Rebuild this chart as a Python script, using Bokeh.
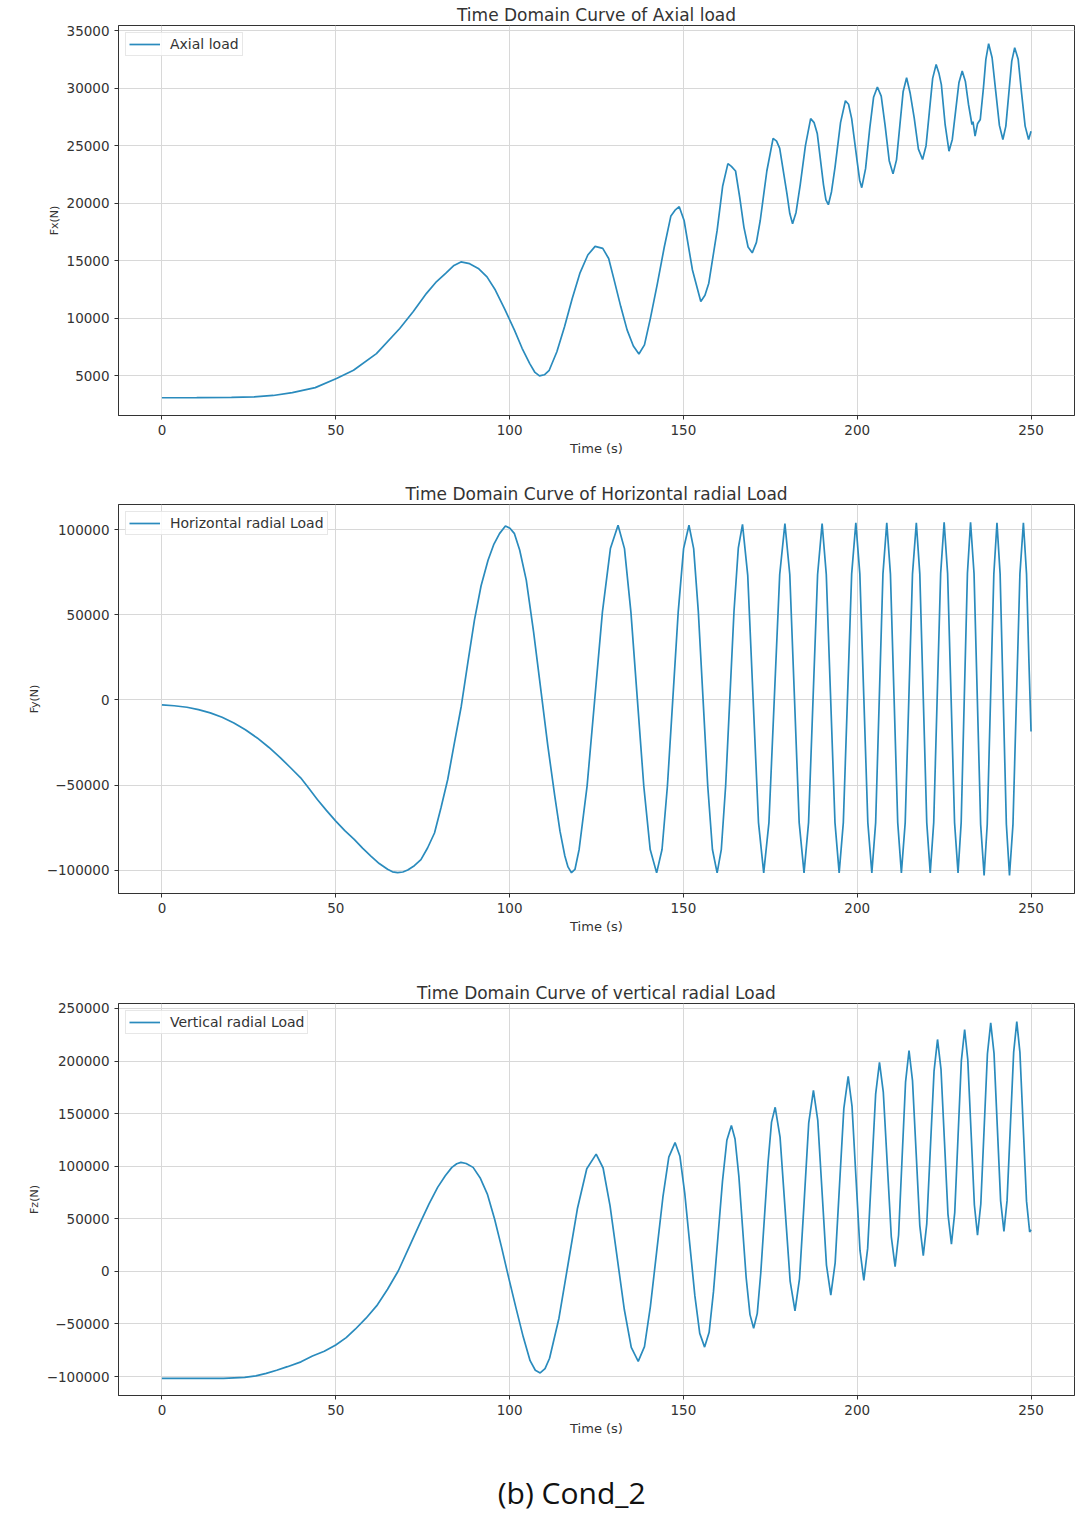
from bokeh.plotting import figure
from bokeh.models import Range1d, FixedTicker
from bokeh.layouts import column
from bokeh.embed import file_html
from bokeh.resources import INLINE
from bokeh.core.properties import value

# ---------------- data ----------------
time_ticks = [0, 50, 100, 150, 200, 250]
fx_ticks = [5000, 10000, 15000, 20000, 25000, 30000, 35000]
fy_ticks = [-100000, -50000, 0, 50000, 100000]
fz_ticks = [-100000, -50000, 0, 50000, 100000, 150000, 200000, 250000]

titles = ["Time Domain Curve of Axial load",
          "Time Domain Curve of Horizontal radial Load",
          "Time Domain Curve of vertical radial Load"]
legend_labels = ["Axial load", "Horizontal radial Load", "Vertical radial Load"]
y_labels = ["Fx(N)", "Fy(N)", "Fz(N)"]
x_label = "Time (s)"
caption = "(b) Cond_2"

axial_t = [0, 10, 20, 26.5, 32, 37.5, 44.1, 50.2, 55.1, 61.7,
           68.4, 72.3, 76.1, 79.0, 81.6, 84.0, 86.0, 88.5, 91.0, 93.5,
           95.9, 98.6, 101.4, 103.6, 105.8, 107.3, 108.6, 110.0, 111.4, 113.6,
           115.8, 118.0, 120.2, 122.5, 124.6, 126.8, 128.5,
           130.1, 132.0, 133.8, 135.6, 137.2, 138.8, 140.5, 142.5, 144.5, 146.4,
           147.6, 148.8, 150.2, 152.6, 155.0, 156.2, 157.3, 159.7, 161.3, 162.8,
           163.8, 165.0, 166.2, 167.4, 168.6, 169.8, 171.0, 172.1, 174.0, 175.8,
           176.8, 177.7, 179.8, 180.6, 181.4, 182.4, 183.6, 185.1, 186.6, 187.6,
           188.5, 190.3, 191.0, 191.7, 192.6, 193.6, 195.2, 196.6, 197.5, 198.4,
           200.0, 200.7, 201.3, 202.4, 203.6, 204.7, 205.8, 206.9, 208.0, 209.2,
           210.3, 211.3, 212.25, 213.2, 214.2, 215.2, 216.4, 217.6, 218.8, 219.8,
           220.75, 221.7, 222.7, 223.5, 224.2, 225.3, 226.4, 227.35, 228.3, 229.25,
           230.2, 231.1, 232.0, 233.0, 233.3, 233.9, 234.6, 235.4, 236.3, 237.0,
           237.8, 238.8, 239.85, 240.9, 241.9, 242.75, 243.6, 244.45, 245.3, 246.3,
           247.3, 248.3, 249.3, 250.0]
axial_v = [3100, 3110, 3140, 3170, 3300, 3550, 3980, 4770, 5490, 6940,
           9120, 10600, 12170, 13200, 13910, 14600, 14900, 14750, 14340, 13600,
           12460, 10800, 8980, 7400, 6070, 5300, 5000, 5100, 5490, 7100,
           9270, 11700, 13900, 15500, 16250, 16080, 15200,
           13300, 11000, 9000, 7600, 6900, 7700, 10000, 13000, 16200, 18900,
           19400, 19700, 18500, 14200, 11470, 12000, 13050, 17640, 21500, 23440,
           23200, 22800, 20500, 17930, 16200, 15690, 16600, 18500, 22800, 25630,
           25400, 24770, 20800, 19100, 18210, 19200, 21600, 25000, 27350, 27000,
           26060, 21600, 20300, 19870, 21000, 23100, 27000, 28900, 28600, 27350,
           23600, 22000, 21350, 23000, 26500, 29200, 30100, 29300, 26800, 23700,
           22550, 23770, 26725, 29680, 30900, 29600, 27400, 24700, 23800, 25000,
           27930, 30850, 32060, 31300, 30300, 26800, 24520, 25540, 28000, 30460,
           31480, 30600, 28600, 26840, 27100, 25830, 26900, 27280, 30000, 32500,
           33860, 32640, 29700, 26760, 25540, 26700, 29525, 32350, 33510, 32500,
           29500, 26700, 25540, 26260]

horiz_t = [0, 3.5, 7.2, 10.5, 13.9, 17.3, 20.7, 24.0, 27.4, 30.8,
           34.1, 37.0, 39.9, 42.3, 44.7, 47.3, 50.0, 52.6, 55.3, 57.7,
           60.1, 62.5, 64.9, 66.3, 67.8, 69.3, 70.7, 72.6, 74.5, 76.4,
           78.4, 80.3, 82.2, 84.1, 86.1, 88.0, 89.9, 91.8, 93.8, 95.5,
           97.1, 98.8, 100.1, 101.4, 102.9, 104.8, 106.9, 109.1, 111.0, 113.0,
           114.5, 115.9, 116.8, 117.8, 118.8, 120.0, 122.3,
           124.5, 126.7, 129.0, 131.2, 133.05, 134.9, 136.75, 138.6, 140.45, 142.3,
           143.85, 145.4, 146.95, 148.5, 150.05, 151.6, 152.95, 154.3, 155.65, 157.0,
           158.35, 159.7, 160.9, 162.15, 163.35, 164.55, 165.8, 167.0, 168.5, 170.05,
           171.6, 173.1, 174.6, 176.15, 177.7, 179.2, 180.6, 181.95, 183.3, 184.7,
           186.0, 187.3, 188.6, 189.9, 191.1, 192.35, 193.6, 194.8, 196.0, 197.2,
           198.4, 199.6, 200.75, 201.9, 203.05, 204.2, 205.3, 206.35, 207.4, 208.5,
           209.55, 210.6, 211.65, 212.7, 213.8, 214.85, 215.9, 217.0, 218.0, 219.0,
           220.0, 221.0, 222.0, 223.0, 224.0, 225.0, 226.0, 227.0, 228.0, 229.0,
           229.9, 230.8, 231.7, 232.6, 233.6, 234.55, 235.5, 236.5, 237.4, 238.35,
           239.3, 240.2, 241.1, 242.0, 242.9, 243.8, 244.8, 245.8, 246.8, 247.8,
           248.7, 249.4, 250.0]
horiz_v = [-2930, -3400, -4300, -5700, -7600, -10200, -13500, -17500, -22300, -27900,
           -34000, -39800, -45700, -52000, -58400, -64800, -71100, -76700, -81800, -87000,
           -91600, -96000, -99400, -100900, -101400, -101000, -99800, -97300, -93750, -86900,
           -78100, -63000, -46700, -25500, -3700, 22000, 47000, 67000, 82000, 91500,
           97600, 102100, 100800, 97600, 88000, 70300, 40000, 4100, -27000, -56400,
           -77000, -91600, -98000, -101400, -99500, -87750, -50400,
           550, 51500, 88850, 102500, 88800, 51500, 500, -50500, -87800, -101500,
           -87800, -50500, 500, 51500, 88800, 102500, 88800, 51500, 500, -50500,
           -87800, -101500, -87800, -50400, 750, 51900, 89300, 103000, 73300, 700,
           -72000, -101500, -72000, 1000, 73600, 103500, 73600, 1000, -72000, -101500,
           -72000, 1000, 73600, 103500, 73600, 1000, -72000, -101500, -72000, 1200,
           74000, 104000, 74000, 1200, -72000, -101500, -72000, 1200, 74000, 104000,
           74000, 1200, -72000, -101500, -72000, 1200, 74000, 104000, 74000, 1200,
           -72000, -101500, -72000, 1400, 74200, 104300, 74200, 1400, -72000, -101500,
           -72000, 1400, 74200, 104300, 74200, 650, -73000, -103000, -73000, 500,
           74000, 104000, 74000, 500, -73000, -103000, -73000, 500, 74000, 104000,
           74000, 22000, -18500]

vert_t = [0, 17.7, 23.8, 27.0, 30.0, 33.0, 36.1, 40.0, 43.3, 46.7,
          50.0, 53.0, 55.6, 58.7, 61.8, 64.9, 68.0, 71.1, 74.1, 76.8,
          79.3, 81.5, 83.4, 84.8, 86.0, 87.5, 89.5, 91.6, 93.6, 95.7,
          97.7, 99.7, 101.8, 103.9, 105.9, 107.4, 108.8, 110.2,
          111.5, 114.2, 116.85, 119.5, 122.2, 124.9, 126.9, 128.9, 130.95, 133.0,
          135.0, 137.0, 138.8, 140.5, 142.3, 144.1, 145.8, 147.6, 149.0, 150.4,
          151.85, 153.3, 154.7, 156.1, 157.4, 158.65, 159.95, 161.25, 162.5, 163.8,
          164.85, 165.95, 167.0, 168.05, 169.15, 170.2, 171.25, 172.25, 173.3, 174.35,
          175.35, 176.4, 177.8, 179.25, 180.7, 182.1, 183.4, 184.75, 186.05, 187.4,
          188.65, 189.9, 191.15, 192.4, 193.65, 194.9, 196.15, 197.4, 198.5, 199.65,
          200.8, 201.9, 203.0, 204.15, 205.3, 206.4, 207.5, 208.65, 209.8, 210.9,
          211.9, 212.9, 213.9, 214.9, 215.9, 216.95, 218.0, 219.0, 220.0, 221.05,
          222.1, 223.1, 224.1, 225.1, 226.1, 227.1, 228.05, 229.0, 229.95, 230.9,
          231.8, 232.75, 233.7, 234.6, 235.55, 236.5, 237.45, 238.4, 239.35, 240.3,
          241.25, 242.2, 243.1, 244.05, 245.0, 245.9, 246.8, 247.75, 248.7, 249.6,
          250.0]
vert_v = [-101700, -101700, -100800, -99300, -97000, -94000, -90600, -86000, -80500, -76000,
          -70000, -63000, -55000, -44500, -32600, -17000, 600, 23000, 45000, 64000,
          79900, 91000, 98900, 102300, 103600, 102600, 98900, 88500, 73500, 49500,
          22800, -5500, -34200, -62000, -84900, -94000, -96500, -92500,
          -82600, -44500, 7500, 59500, 97600, 111500, 98300, 62250, 13000, -36250,
          -72300, -85500, -71600, -33500, 18500, 70500, 108600, 122500, 109450, 73850,
          25250, -23350, -58950, -72000, -57900, -19300, 33400, 86100, 124700, 138800,
          125900, 90600, 42400, -5800, -41100, -54000, -39900, -1500, 51000, 103500,
          141900, 156000, 127650, 59250, -9150, -37500, -6800, 67250, 141300, 172000,
          143500, 74750, 6000, -22500, 8000, 81500, 155000, 185500, 157100, 88500,
          19900, -8500, 21850, 95150, 168450, 198800, 170350, 101650, 32950, 4500,
          34600, 107250, 179900, 210000, 181400, 112500, 43600, 15000, 45100, 117750,
          190400, 220500, 192000, 123250, 54500, 26000, 55900, 128000, 200100, 230000,
          201350, 132250, 63150, 34500, 64100, 135400, 206700, 236300, 207250, 137150,
          67050, 38000, 67250, 137750, 208250, 237500, 208200, 137500, 66800, 37500,
          39600]

# ---------------- styling ----------------
LINE = "#2a8bbd"
TXT = "#333333"
FONT = "DejaVu Sans"


def make_fig(title, ylab, leg, t, v, yr, yticks, top, fh, bottom):
    p = figure(frame_width=956, frame_height=fh,
               min_border_left=118, min_border_right=6,
               min_border_top=top, min_border_bottom=bottom,
               x_range=Range1d(-12.5, 262.5), y_range=Range1d(*yr),
               toolbar_location=None, output_backend="svg",
               background_fill_color="white", border_fill_color="white")
    p.title.text = title
    p.title.align = "center"
    p.title.text_font = FONT
    p.title.text_font_size = "17px"
    p.title.text_font_style = "normal"
    p.title.text_color = "#333333"
    p.title.standoff = 2

    p.line(t, v, line_color=LINE, line_width=1.7, legend_label=leg)

    p.xaxis.ticker = FixedTicker(ticks=time_ticks)
    p.yaxis.ticker = FixedTicker(ticks=yticks)
    p.yaxis.major_label_overrides = {k: str(k).replace("-", "\u2212") for k in yticks}
    p.xaxis.axis_label = x_label
    p.yaxis.axis_label = ylab
    for ax in (p.xaxis, p.yaxis):
        ax.axis_line_color = "#333333"
        ax.major_tick_line_color = "#333333"
        ax.major_tick_out = 4
        ax.major_tick_in = 0
        ax.minor_tick_line_color = None
        ax.major_label_text_font = FONT
        ax.major_label_text_font_size = "13.5px"
        ax.major_label_text_color = TXT
        ax.major_label_standoff = 5
        ax.axis_label_text_font = FONT
        ax.axis_label_text_font_style = "normal"
        ax.axis_label_text_color = TXT
        ax.axis_label_standoff = 3
    p.xaxis.axis_label_text_font_size = "13px"
    p.yaxis.axis_label_text_font_size = "11px"

    p.grid.grid_line_color = "#d8d8d8"
    p.grid.grid_line_width = 1
    p.outline_line_color = "#333333"
    p.outline_line_width = 1

    lg = p.legend[0]
    lg.location = "top_left"
    lg.margin = 7
    lg.padding = 3
    lg.spacing = 0
    lg.label_text_font = FONT
    lg.label_text_font_size = "14px"
    lg.label_text_color = TXT
    lg.label_height = 14
    lg.glyph_height = 12
    lg.glyph_width = 31
    lg.label_standoff = 10
    lg.border_line_color = "#d0d0d0"
    lg.border_line_width = 1
    lg.background_fill_alpha = 0.85
    return p


p1 = make_fig(titles[0], y_labels[0], legend_labels[0], axial_t, axial_v,
              (1560, 35440), fx_ticks, 25, 390, 55)
p2 = make_fig(titles[1], y_labels[1], legend_labels[1], horiz_t, horiz_v,
              (-113600, 114700), fy_ticks, 34, 389, 85)
p3 = make_fig(titles[2], y_labels[2], legend_labels[2], vert_t, vert_v,
              (-118000, 254700), fz_ticks, 25, 392, 56)

# caption panel: its frame is aligned with the frames above (x 118..1074)
pc = figure(width=1080, height=66, x_range=Range1d(0, 1), y_range=Range1d(0, 1),
            toolbar_location=None, output_backend="svg", min_border=0,
            background_fill_color="white", border_fill_color="white")
pc.axis.visible = False
pc.grid.visible = False
pc.outline_line_color = None
pc.text(x=[0.474], y=[0.38], text=[caption], text_align="center",
        text_baseline="middle", text_font=value("Open Sans"),
        text_font_size="30px", text_color="#111111")

layout = column(p1, p2, p3, pc, spacing=0)
open("out.html", "w").write(file_html(layout, INLINE))
